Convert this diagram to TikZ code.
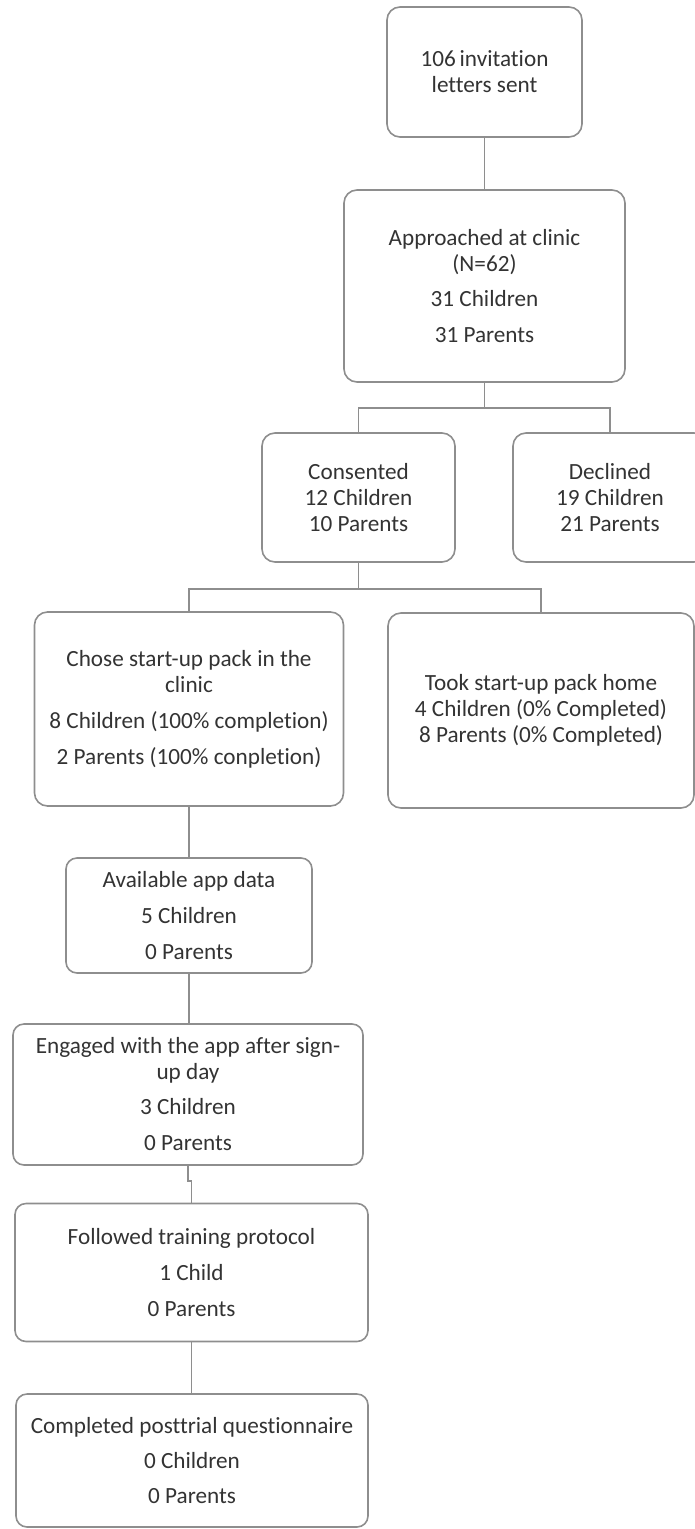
\documentclass[tikz,border=0pt]{standalone}
\usepackage{fontspec}
\setmainfont{Carlito}[Ligatures=NoCommon]
\definecolor{bordergray}{HTML}{8E8E8E}
\definecolor{textgray}{HTML}{333333}
\tikzset{
  flowbox/.style={draw=bordergray, line width=1.6pt, rounded corners=13pt,
    align=center, inner sep=0pt, text=textgray,
    font={\fontsize{23.2}{26}\selectfont}},
  link/.style={draw=bordergray, line width=1.6pt}
}
\begin{document}
\begin{tikzpicture}[x=1pt,y=-1pt]
\useasboundingbox (0,0) rectangle (695,1529);
\node[flowbox, minimum width=195pt, minimum height=130pt] (b1) at (484.5,72) {106\,invitation\\letters sent};
\node[flowbox, minimum width=281pt, minimum height=192pt] (b2) at (484.5,286) {Approached at clinic\\(N=62)\\[9pt]31 Children\\[10pt]31 Parents};
\node[flowbox, minimum width=193pt, minimum height=129pt] (cons) at (358.5,497.5) {Consented\\12 Children\\10 Parents};
\node[flowbox, minimum width=194pt, minimum height=129pt] (decl) at (610,497.5) {Declined\\19 Children\\21 Parents};
\node[flowbox, minimum width=309pt, minimum height=194pt] (chose) at (189,709) {Chose start-up pack in the\\clinic\\[10pt]8 Children (100\% completion)\\[10pt]2 Parents (100\% conpletion)};
\node[flowbox, minimum width=306pt, minimum height=195pt] (took) at (541,710.5) {Took start-up pack home\\4 Children (0\% Completed)\\8 Parents (0\% Completed)};
\node[flowbox, minimum width=246pt, minimum height=115pt, rounded corners=11pt] (avail) at (189,915.5) {Available app data\\[10pt]5 Children\\[10pt]0 Parents};
\node[flowbox, minimum width=350pt, minimum height=141pt, rounded corners=11pt] (eng) at (188,1094.5) {Engaged with the app after sign-\\up day\\[9pt]3 Children\\[10pt]0 Parents};
\node[flowbox, minimum width=353pt, minimum height=138pt, rounded corners=11pt] (fol) at (191.5,1272.5) {Followed training protocol\\[10pt]1 Child\\[10pt]0 Parents};
\node[flowbox, minimum width=352pt, minimum height=133pt, rounded corners=11pt] (comp) at (192,1460.5) {Completed posttrial questionnaire\\[9pt]0 Children\\[9pt]0 Parents};
\draw[link] (b1.south) -- (b2.north);
\draw[link] (b2.south) -- ++(0,25) -| (cons.north);
\draw[link] (b2.south) -- ++(0,25) -| (decl.north);
\draw[link] (cons.south) -- ++(0,26) -| (chose.north);
\draw[link] (cons.south) -- ++(0,26) -| (took.north);
\draw[link] (chose.south) -- (avail.north);
\draw[link] (avail.south) -- (avail.south |- eng.north);
\draw[link] (eng.south) -- ++(0,15) -| (fol.north);
\draw[link] (fol.south) -- (fol.south |- comp.north);
\end{tikzpicture}
\end{document}
